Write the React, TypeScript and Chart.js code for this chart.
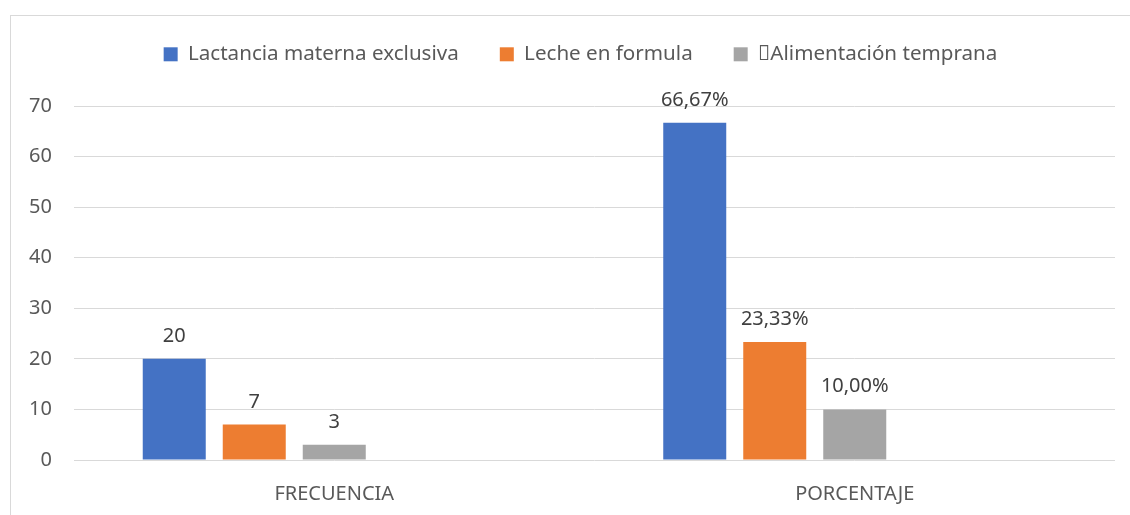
import React, { useEffect, useRef } from "react";
import { Chart, registerables } from "chart.js";

Chart.register(...registerables);

const categories = ["FRECUENCIA", "PORCENTAJE"];
const seriesNames = ["Lactancia materna exclusiva", "Leche en formula", "\uF0B7Alimentación temprana"];
const lactancia = [20, 66.67];
const leche = [7, 23.33];
const alimentacion = [3, 10];
const lactanciaLabels = ["20", "66,67%"];
const lecheLabels = ["7", "23,33%"];
const alimentacionLabels = ["3", "10,00%"];
const emptySeries = [null, null];
const yMin = 0;
const yMax = 70;
const yStep = 10;

const FONT = "'Noto Sans', 'Open Sans', sans-serif";

const valueLabelPlugin = {
  id: "valueLabels",
  afterDatasetsDraw(chart: any) {
    const ctx = chart.ctx;
    ctx.save();
    ctx.font = `20px ${FONT}`;
    ctx.fillStyle = "#404040";
    ctx.textAlign = "center";
    ctx.textBaseline = "alphabetic";
    chart.data.datasets.forEach((ds: any, i: number) => {
      const labels = ds.valueLabels;
      if (!labels) return;
      const meta = chart.getDatasetMeta(i);
      meta.data.forEach((bar: any, j: number) => {
        if (labels[j] == null) return;
        ctx.fillText(labels[j], bar.x, bar.y - 17);
      });
    });
    ctx.restore();
  },
};

const legendLayoutPlugin = {
  id: "legendLayout",
  beforeInit(chart: any) {
    const legend = chart.legend;
    if (!legend) return;
    const fit = legend.fit;
    legend.fit = function () {
      fit.call(this);
      this.height = 103;
    };
  },
  afterLayout(chart: any) {
    const legend = chart.legend;
    if (!legend) return;
    legend.left += 18;
    legend.right += 18;
  },
};

export default function App() {
  const ref = useRef<HTMLCanvasElement | null>(null);

  useEffect(() => {
    if (!ref.current) return;
    const chart = new Chart(ref.current, {
      type: "bar",
      data: {
        labels: categories,
        datasets: [
          { label: seriesNames[0], data: lactancia, backgroundColor: "#4472C4", valueLabels: lactanciaLabels } as any,
          { label: seriesNames[1], data: leche, backgroundColor: "#ED7D31", valueLabels: lecheLabels } as any,
          { label: seriesNames[2], data: alimentacion, backgroundColor: "#A5A5A5", valueLabels: alimentacionLabels } as any,
          { label: "", data: emptySeries, backgroundColor: "#FFC000" } as any,
          { label: "", data: emptySeries, backgroundColor: "#5B9BD5" } as any,
        ],
      },
      options: {
        responsive: false,
        animation: false,
        maintainAspectRatio: false,
        layout: { padding: { left: 10, right: 15, top: 3, bottom: 0 } },
        datasets: {
          bar: { categoryPercentage: 0.7685, barPercentage: 0.7875, borderWidth: 0 },
        },
        plugins: {
          tooltip: { enabled: false },
          legend: {
            position: "top",
            align: "center",
            labels: {
              boxWidth: 14,
              boxHeight: 14,
              padding: 41,
              color: "#595959",
              font: { family: FONT, size: 20.6 },
              filter: (item: any) => item.datasetIndex < 3,
            },
          },
        },
        scales: {
          x: {
            grid: { display: false },
            border: { display: false },
            ticks: { color: "#595959", font: { family: FONT, size: 20 }, padding: 14 },
            afterFit: (s: any) => {
              s.height = 55;
            },
          },
          y: {
            min: yMin,
            max: yMax,
            ticks: { stepSize: yStep, color: "#595959", font: { family: FONT, size: 20 }, padding: 22 },
            grid: { color: "#d9d9d9", lineWidth: 1, drawTicks: false },
            border: { display: false },
            afterFit: (s: any) => {
              s.width = 64;
            },
          },
        },
      },
      plugins: [valueLabelPlugin, legendLayoutPlugin],
    } as any);
    return () => chart.destroy();
  }, []);

  return (
    <div style={{ position: "absolute", left: 0, top: 0, width: 1130, height: 515, overflow: "hidden", background: "#fff" }}>
      <div
        style={{
          position: "absolute",
          left: 10,
          top: 15,
          width: 1200,
          height: 600,
          borderLeft: "1px solid #d9d9d9",
          borderTop: "1px solid #d9d9d9",
        }}
      />
      <canvas ref={ref} width={1130} height={515} style={{ position: "absolute", left: 0, top: 0, width: 1130, height: 515 }} />
    </div>
  );
}
